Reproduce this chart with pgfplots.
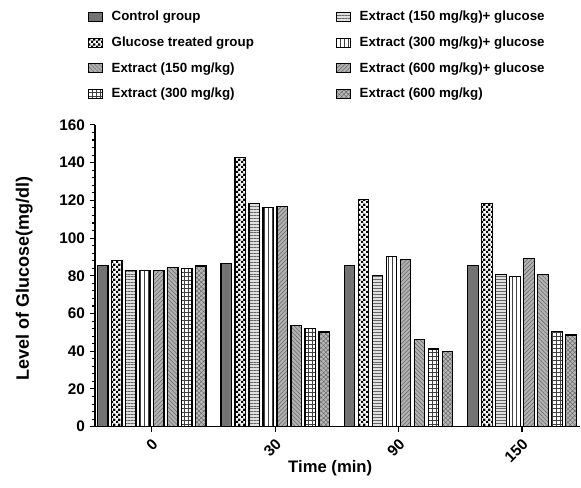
\documentclass[border=0pt]{standalone}
\usepackage{fontspec}
\setmainfont{Liberation Sans}
\usepackage{pgfplots}
\pgfplotsset{compat=1.18}
\usetikzlibrary{patterns,patterns.meta}

\pgfdeclarepatternformonly{smallcheck}{\pgfpointorigin}{\pgfqpoint{3.8pt}{3.8pt}}{\pgfqpoint{3.8pt}{3.8pt}}{%
  \pgfpathrectangle{\pgfpointorigin}{\pgfqpoint{1.9pt}{1.9pt}}%
  \pgfpathrectangle{\pgfqpoint{1.9pt}{1.9pt}}{\pgfqpoint{1.9pt}{1.9pt}}%
  \pgfusepath{fill}}

% bar styles (plot order)
\pgfplotsset{
  ctrl/.style={draw=black, fill=black!55},
  gluc/.style={draw=black, fill=white, postaction={pattern=smallcheck, pattern color=black, draw=black}},
  ehg/.style={draw=black, fill=black!12, postaction={pattern={Lines[angle=0,distance=2.2pt,line width=0.5pt]}, pattern color=black!60, draw=black}},
  evg/.style={draw=black, fill=white, postaction={pattern={Lines[angle=90,distance=3pt,line width=0.5pt]}, pattern color=black!75, draw=black}},
  edg/.style={draw=black, fill=black!30, postaction={pattern={Lines[angle=45,distance=2.2pt,line width=0.4pt]}, pattern color=black!60, draw=black}},
  eda/.style={draw=black, fill=black!30, postaction={pattern={Lines[angle=-45,distance=2.2pt,line width=0.4pt]}, pattern color=black!60, draw=black}},
  egr/.style={draw=black, fill=white, postaction={pattern={Hatch[angle=0,distance=3pt,line width=0.5pt]}, pattern color=black!75, draw=black}},
  ecd/.style={draw=black, fill=black!28, postaction={pattern={Hatch[angle=45,distance=2.4pt,line width=0.35pt]}, pattern color=black!60, draw=black}},
}

\begin{document}
\begin{tikzpicture}
\begin{axis}[
  name=ax,
  scale only axis,
  width=363.75pt, height=226.3pt,
  xmin=-0.46, xmax=3.47,
  ymin=0, ymax=160,
  axis lines*=left,
  axis line style={line width=1pt},
  xtick={0,1,2,3},
  xticklabels={0,30,90,150},
  ytick={0,20,...,160},
  minor y tick num=4,
  tick align=outside,
  major tick length=4pt,
  minor tick length=2.2pt,
  tick style={black, line width=0.8pt},
  /pgf/number format/assume math mode=true,
  tick label style={font=\fontsize{11.5}{13}\bfseries\selectfont},
  xticklabel style={anchor=east, rotate=45, yshift=-7pt},
  xlabel={Time (min)},
  ylabel={Level of Glucose(mg/dl)},
  xlabel style={font=\fontsize{12.5}{14}\bfseries\selectfont, at={([yshift=-31pt]axis description cs:0.485,0)}, anchor=center},
  ylabel style={font=\fontsize{13.5}{15}\bfseries\selectfont, at={([xshift=-53pt]axis description cs:0,0.49)}, anchor=center},
  legend columns=2,
  legend image code/.code={\draw[#1, line width=0.7pt] (0pt,-3.4pt) rectangle (10.5pt,3.4pt); \path (15.5pt,0pt);},
  legend style={draw=none, fill=none, inner sep=0pt,
    at={([xshift=-5.25pt,yshift=87pt]axis description cs:0,1)}, anchor=north west,
    font=\fontsize{10}{12}\bfseries\selectfont, row sep=7.5pt,
    nodes={inner sep=1.5pt}},
  legend cell align=left,
]
\addlegendimage{ctrl}\addlegendentry{\makebox[167pt][l]{Control group}}
\addlegendimage{ehg}\addlegendentry{Extract (150 mg/kg)+ glucose}
\addlegendimage{gluc}\addlegendentry{\makebox[167pt][l]{Glucose treated group}}
\addlegendimage{evg}\addlegendentry{Extract (300 mg/kg)+ glucose}
\addlegendimage{eda}\addlegendentry{\makebox[167pt][l]{Extract (150 mg/kg)}}
\addlegendimage{edg}\addlegendentry{Extract (600 mg/kg)+ glucose}
\addlegendimage{egr}\addlegendentry{\makebox[167pt][l]{Extract (300 mg/kg)}}
\addlegendimage{ecd}\addlegendentry{Extract (600 mg/kg)}

\addplot[ybar, bar width=7.8pt, bar shift=-36.75pt, line width=0.8pt, ctrl, forget plot]
  coordinates {(0,85.4) (1,86.3) (2,85.4) (3,85.4)};
\addplot[ybar, bar width=7.8pt, bar shift=-26.25pt, line width=0.8pt, gluc, forget plot]
  coordinates {(0,88.0) (1,142.6) (2,120.7) (3,118.2)};
\addplot[ybar, bar width=7.8pt, bar shift=-15.75pt, line width=0.8pt, ehg, forget plot]
  coordinates {(0,83.0) (1,118.4) (2,80.0) (3,80.5)};
\addplot[ybar, bar width=7.8pt, bar shift=-5.25pt, line width=0.8pt, evg, forget plot]
  coordinates {(0,83.0) (1,116.3) (2,90.1) (3,79.5)};
\addplot[ybar, bar width=7.8pt, bar shift=5.25pt, line width=0.8pt, edg, forget plot]
  coordinates {(0,82.8) (1,116.5) (2,88.7) (3,89.4)};
\addplot[ybar, bar width=7.8pt, bar shift=15.75pt, line width=0.8pt, eda, forget plot]
  coordinates {(0,84.2) (1,53.8) (2,46.2) (3,80.8)};
\addplot[ybar, bar width=7.8pt, bar shift=26.25pt, line width=0.8pt, egr, forget plot]
  coordinates {(0,83.7) (1,52.2) (2,41.2) (3,50.6)};
\addplot[ybar, bar width=7.8pt, bar shift=36.75pt, line width=0.8pt, ecd, forget plot]
  coordinates {(0,85.2) (1,50.2) (2,40.1) (3,48.6)};
\end{axis}
\pgfresetboundingbox
\path ([shift={(-71.25pt,-46pt)}]ax.south west) rectangle ([shift={(364.5pt,320pt)}]ax.south west);
\end{tikzpicture}
\end{document}
